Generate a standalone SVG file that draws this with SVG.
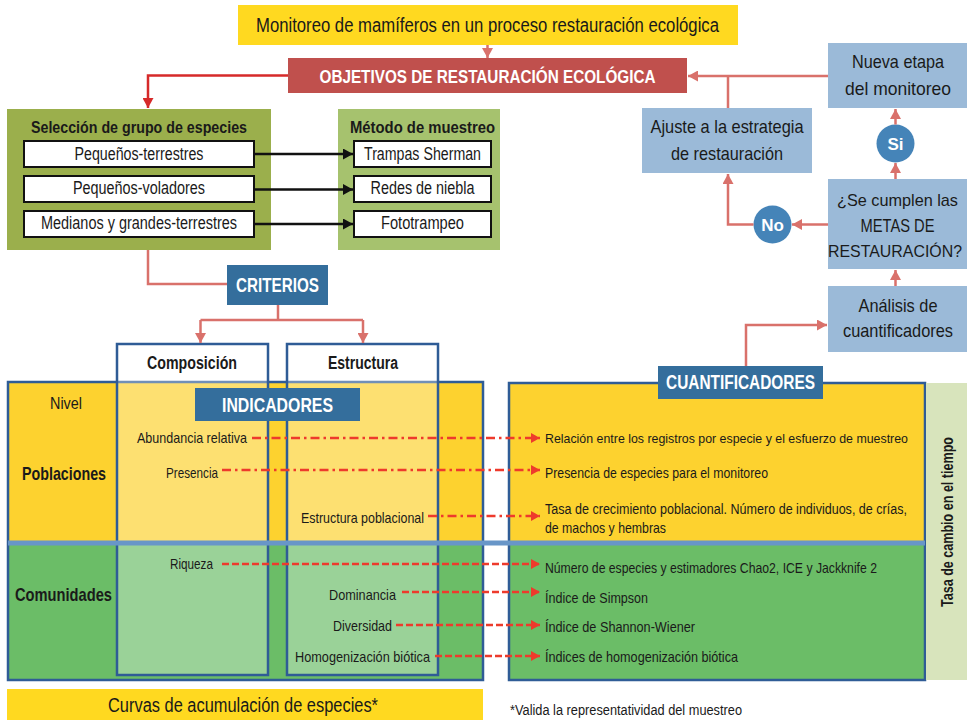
<svg xmlns="http://www.w3.org/2000/svg" width="967" height="720" viewBox="0 0 967 720">
  <style>
    text { font-family: "Liberation Sans Narrow", "Liberation Sans", Arial, sans-serif; fill: #1a1a1a; }
    .b { font-weight: bold; }
    .w { fill: #ffffff; }
    .mid { text-anchor: middle; }
    .end { text-anchor: end; }
    .col { fill: #ffffff; fill-opacity: 0.32; stroke: #2f5c96; stroke-width: 2.5; }
    .frame { fill: none; stroke: #2f5c96; stroke-width: 2.5; }
    .link { fill: none; stroke: #d9716b; stroke-width: 2.5; }
    .dashdot { fill: none; stroke: #ee3a2c; stroke-width: 2.5; stroke-dasharray: 9 4 2.5 4; }
    .dash { fill: none; stroke: #ee3a2c; stroke-width: 2.5; stroke-dasharray: 7 3; }
    .flow { fill: #9bbad8; }
    .tag { fill: #346e9c; }
    .sel { fill: #ffffff; stroke: #111111; stroke-width: 2; }
  </style>
  <defs>
    <marker id="ah-salmon" markerUnits="userSpaceOnUse" markerWidth="11" markerHeight="11" refX="10" refY="5.5" orient="auto">
      <path d="M0,0 L10,5.5 L0,11 z" fill="#d9716b"/>
    </marker>
    <marker id="ah-red" markerUnits="userSpaceOnUse" markerWidth="11" markerHeight="11" refX="10" refY="5.5" orient="auto">
      <path d="M0,0 L10,5.5 L0,11 z" fill="#d62a2a"/>
    </marker>
    <marker id="ah-dash" markerUnits="userSpaceOnUse" markerWidth="10" markerHeight="10" refX="9" refY="5" orient="auto">
      <path d="M0,0 L9,5 L0,10 z" fill="#ee3a2c"/>
    </marker>
    <marker id="ah-black" markerUnits="userSpaceOnUse" markerWidth="11" markerHeight="11" refX="10" refY="5.5" orient="auto">
      <path d="M0,0 L10,5.5 L0,11 z" fill="#111111"/>
    </marker>
  </defs>

  <rect width="967" height="720" fill="#ffffff"/>

  <!-- Title bar -->
  <g id="titulo">
    <rect x="238" y="5" width="500" height="40" fill="#ffd920"/>
    <text class="mid" x="487.5" y="32" font-size="19.5" textLength="463" lengthAdjust="spacingAndGlyphs">Monitoreo de mamíferos en un proceso restauración ecológica</text>
  </g>

  <g id="objetivos">
    <rect x="288" y="58" width="399" height="35" fill="#c0504d"/>
    <text class="b w mid" x="487.5" y="83" font-size="19" textLength="336" lengthAdjust="spacingAndGlyphs">OBJETIVOS DE RESTAURACIÓN ECOLÓGICA</text>
  </g>

  <!-- Species groups -->
  <g id="seleccion">
    <rect x="7" y="109" width="264" height="141" fill="#9baf4c"/>
    <text class="b mid" x="139" y="133" font-size="16.5" textLength="216" lengthAdjust="spacingAndGlyphs">Selección de grupo de especies</text>
    <rect class="sel" x="24" y="141" width="230" height="26"/>
    <text class="mid" x="139" y="160" font-size="17.5" textLength="129" lengthAdjust="spacingAndGlyphs">Pequeños-terrestres</text>
    <rect class="sel" x="24" y="176" width="230" height="26"/>
    <text class="mid" x="139" y="194" font-size="17.5" textLength="132" lengthAdjust="spacingAndGlyphs">Pequeños-voladores</text>
    <rect class="sel" x="24" y="211" width="230" height="26"/>
    <text class="mid" x="139" y="229" font-size="17.5" textLength="196" lengthAdjust="spacingAndGlyphs">Medianos y grandes-terrestres</text>
  </g>

  <g id="metodo">
    <rect x="338" y="109" width="162" height="141" fill="#a6c26e"/>
    <text class="b mid" x="422.5" y="133" font-size="16.5" textLength="145" lengthAdjust="spacingAndGlyphs">Método de muestreo</text>
    <rect class="sel" x="354" y="141" width="137" height="26"/>
    <text class="mid" x="422.5" y="160" font-size="17.5" textLength="117" lengthAdjust="spacingAndGlyphs">Trampas Sherman</text>
    <rect class="sel" x="354" y="176" width="137" height="26"/>
    <text class="mid" x="422.5" y="194" font-size="17.5" textLength="104" lengthAdjust="spacingAndGlyphs">Redes de niebla</text>
    <rect class="sel" x="354" y="211" width="137" height="26"/>
    <text class="mid" x="422.5" y="229" font-size="17.5" textLength="83" lengthAdjust="spacingAndGlyphs">Fototrampeo</text>
  </g>

  <g id="criterios">
    <rect class="tag" x="227" y="265" width="101" height="40"/>
    <text class="b w mid" x="277.5" y="292" font-size="20" textLength="83" lengthAdjust="spacingAndGlyphs">CRITERIOS</text>
  </g>

  <!-- Indicator frame: populations / communities -->
  <g id="indicadores-marco">
    <rect x="8" y="382" width="475" height="161" fill="#fdd22f"/>
    <rect x="8" y="543" width="475" height="137" fill="#6bbd67"/>
    <rect class="frame" x="8" y="382" width="475" height="298"/>
    <rect class="col" x="117" y="344" width="151" height="331"/>
    <rect class="col" x="287" y="344" width="151" height="331"/>
    <text class="b mid" x="192" y="369" font-size="17.5" textLength="90" lengthAdjust="spacingAndGlyphs">Composición</text>
    <text class="b mid" x="363" y="369" font-size="17.5" textLength="70" lengthAdjust="spacingAndGlyphs">Estructura</text>
    <text class="mid" x="66" y="409" font-size="17" textLength="32" lengthAdjust="spacingAndGlyphs">Nivel</text>
    <text class="b mid" x="64" y="480" font-size="18.5" textLength="84" lengthAdjust="spacingAndGlyphs">Poblaciones</text>
    <text class="b mid" x="63.5" y="601" font-size="18.5" textLength="97" lengthAdjust="spacingAndGlyphs">Comunidades</text>
  </g>

  <!-- Quantifier frame -->
  <g id="cuantificadores-marco">
    <rect x="509" y="383" width="416" height="160" fill="#fdd22f"/>
    <rect x="509" y="543" width="416" height="137" fill="#6bbd67"/>
    <rect class="frame" x="509" y="383" width="416" height="297"/>
  </g>

  <g id="tasa">
    <rect x="926" y="383" width="41" height="297" fill="#d8e4bc"/>
    <text class="b mid" transform="translate(953 522) rotate(-90)" x="0" y="0" font-size="16.5" textLength="170" lengthAdjust="spacingAndGlyphs">Tasa de cambio en el tiempo</text>
  </g>

  <!-- Level separator -->
  <line x1="8" y1="543" x2="925" y2="543" stroke="#6896c8" stroke-width="5"/>

  <g id="indicadores">
    <rect class="tag" x="195" y="388" width="165" height="33"/>
    <text class="b w mid" x="277.5" y="412" font-size="20.5" textLength="111" lengthAdjust="spacingAndGlyphs">INDICADORES</text>
  </g>

  <g id="cuantificadores">
    <rect class="tag" x="658" y="366" width="165" height="33"/>
    <text class="b w mid" x="740.5" y="389" font-size="19.5" textLength="149" lengthAdjust="spacingAndGlyphs">CUANTIFICADORES</text>
  </g>

  <!-- Indicator labels -->
  <g id="indicador-textos">
    <text class="end" x="247" y="443" font-size="15" textLength="110" lengthAdjust="spacingAndGlyphs">Abundancia relativa</text>
    <text class="end" x="218" y="478" font-size="15" textLength="52" lengthAdjust="spacingAndGlyphs">Presencia</text>
    <text class="end" x="424" y="523" font-size="15" textLength="123" lengthAdjust="spacingAndGlyphs">Estructura poblacional</text>
    <text class="end" x="213" y="569" font-size="15" textLength="43" lengthAdjust="spacingAndGlyphs">Riqueza</text>
    <text class="end" x="396" y="600" font-size="15" textLength="67" lengthAdjust="spacingAndGlyphs">Dominancia</text>
    <text class="end" x="392" y="631" font-size="15" textLength="59" lengthAdjust="spacingAndGlyphs">Diversidad</text>
    <text class="end" x="430" y="662" font-size="15" textLength="135" lengthAdjust="spacingAndGlyphs">Homogenización biótica</text>
  </g>

  <!-- Quantifier labels -->
  <g id="cuantificador-textos">
    <text x="545" y="443" font-size="13.5" textLength="363" lengthAdjust="spacingAndGlyphs">Relación entre los registros por especie y el esfuerzo de muestreo</text>
    <text x="545" y="478" font-size="14.5" textLength="223" lengthAdjust="spacingAndGlyphs">Presencia de especies para el monitoreo</text>
    <text x="545" y="514" font-size="14" textLength="362" lengthAdjust="spacingAndGlyphs">Tasa de crecimiento poblacional. Número de individuos, de crías,</text>
    <text x="545" y="533" font-size="14.5" textLength="121" lengthAdjust="spacingAndGlyphs">de machos y hembras</text>
    <text x="545" y="573" font-size="14.5" textLength="332" lengthAdjust="spacingAndGlyphs">Número de especies y estimadores Chao2, ICE y Jackknife 2</text>
    <text x="545" y="603" font-size="14.5" textLength="103" lengthAdjust="spacingAndGlyphs">Índice de Simpson</text>
    <text x="545" y="632" font-size="14.5" textLength="150" lengthAdjust="spacingAndGlyphs">Índice de Shannon-Wiener</text>
    <text x="545" y="662" font-size="14.5" textLength="193" lengthAdjust="spacingAndGlyphs">Índices de homogenización biótica</text>
  </g>

  <!-- Evaluation loop -->
  <g id="nueva-etapa">
    <rect class="flow" x="828" y="43" width="139" height="65"/>
    <text class="mid" x="898" y="68" font-size="18.5" textLength="92" lengthAdjust="spacingAndGlyphs">Nueva etapa</text>
    <text class="mid" x="898" y="95" font-size="18.5" textLength="106" lengthAdjust="spacingAndGlyphs">del monitoreo</text>
  </g>
  <g id="ajuste">
    <rect class="flow" x="642" y="108" width="170" height="65"/>
    <text class="mid" x="727" y="133" font-size="18.5" textLength="153" lengthAdjust="spacingAndGlyphs">Ajuste a la estrategia</text>
    <text class="mid" x="727" y="160" font-size="18.5" textLength="112" lengthAdjust="spacingAndGlyphs">de restauración</text>
  </g>
  <g id="metas">
    <rect class="flow" x="828" y="179" width="139" height="90"/>
    <text class="mid" x="897.5" y="206" font-size="17" textLength="121" lengthAdjust="spacingAndGlyphs">¿Se cumplen las</text>
    <text class="mid" x="897.5" y="232" font-size="18" textLength="74" lengthAdjust="spacingAndGlyphs">METAS DE</text>
    <text class="mid" x="895" y="257" font-size="16.5" textLength="134" lengthAdjust="spacingAndGlyphs">RESTAURACIÓN?</text>
  </g>
  <g id="analisis">
    <rect class="flow" x="828" y="286" width="139" height="66"/>
    <text class="mid" x="898" y="312" font-size="18.5" textLength="79" lengthAdjust="spacingAndGlyphs">Análisis de</text>
    <text class="mid" x="898" y="337" font-size="18.5" textLength="110" lengthAdjust="spacingAndGlyphs">cuantificadores</text>
  </g>
  <g id="si">
    <circle cx="895.5" cy="143.5" r="19" fill="#4584b8"/>
    <text class="b w mid" x="895.5" y="149.5" font-size="17">Si</text>
  </g>
  <g id="no">
    <circle cx="772.5" cy="224.5" r="19" fill="#4584b8"/>
    <text class="b w mid" x="772.5" y="230.5" font-size="17">No</text>
  </g>

  <!-- Footer -->
  <g id="curvas">
    <rect x="7" y="689" width="476" height="31" fill="#ffd920"/>
    <text class="mid" x="243" y="712" font-size="20" textLength="270" lengthAdjust="spacingAndGlyphs">Curvas de acumulación de especies*</text>
  </g>
  <text x="510" y="715" font-size="14" textLength="232" lengthAdjust="spacingAndGlyphs">*Valida la representatividad del muestreo</text>

  <!-- Connectors -->
  <g id="conectores">
    <line class="link" x1="487.5" y1="45" x2="487.5" y2="58" marker-end="url(#ah-salmon)"/>
    <path d="M288,75.5 H148 V108" fill="none" stroke="#d62a2a" stroke-width="2.5" marker-end="url(#ah-red)"/>
    <line x1="254" y1="154" x2="353" y2="154" stroke="#111" stroke-width="2.5" marker-end="url(#ah-black)"/>
    <line x1="254" y1="189.5" x2="353" y2="189.5" stroke="#111" stroke-width="2.5" marker-end="url(#ah-black)"/>
    <line x1="254" y1="224" x2="353" y2="224" stroke="#111" stroke-width="2.5" marker-end="url(#ah-black)"/>
    <path class="link" d="M148,250 V284 H227"/>
    <path class="link" d="M278,305 V320"/>
    <path class="link" d="M200.5,320 H363"/>
    <line class="link" x1="200.5" y1="320" x2="200.5" y2="343" marker-end="url(#ah-salmon)"/>
    <line class="link" x1="363" y1="320" x2="363" y2="343" marker-end="url(#ah-salmon)"/>

    <line class="link" x1="828" y1="76" x2="688" y2="76" marker-end="url(#ah-salmon)"/>
    <line class="link" x1="728" y1="108" x2="728" y2="76"/>
    <line class="link" x1="895.5" y1="124.5" x2="895.5" y2="109" marker-end="url(#ah-salmon)"/>
    <line class="link" x1="895.5" y1="179" x2="895.5" y2="163" marker-end="url(#ah-salmon)"/>
    <line class="link" x1="828" y1="224.5" x2="792" y2="224.5" marker-end="url(#ah-salmon)"/>
    <path class="link" d="M753.5,224.5 H728 V174" marker-end="url(#ah-salmon)"/>
    <line class="link" x1="895.5" y1="286" x2="895.5" y2="270" marker-end="url(#ah-salmon)"/>
    <path class="link" d="M746,366 V325 H827" marker-end="url(#ah-salmon)"/>

    <line class="dashdot" x1="252" y1="438" x2="540" y2="438" marker-end="url(#ah-dash)"/>
    <line class="dashdot" x1="222" y1="470" x2="540" y2="470" marker-end="url(#ah-dash)"/>
    <line class="dashdot" x1="428" y1="516" x2="540" y2="516" marker-end="url(#ah-dash)"/>
    <line class="dash" x1="222" y1="564" x2="540" y2="564" marker-end="url(#ah-dash)"/>
    <line class="dash" x1="402" y1="592" x2="540" y2="592" marker-end="url(#ah-dash)"/>
    <line class="dash" x1="396" y1="625" x2="540" y2="625" marker-end="url(#ah-dash)"/>
    <line class="dash" x1="435" y1="656" x2="540" y2="656" marker-end="url(#ah-dash)"/>
  </g>
</svg>
